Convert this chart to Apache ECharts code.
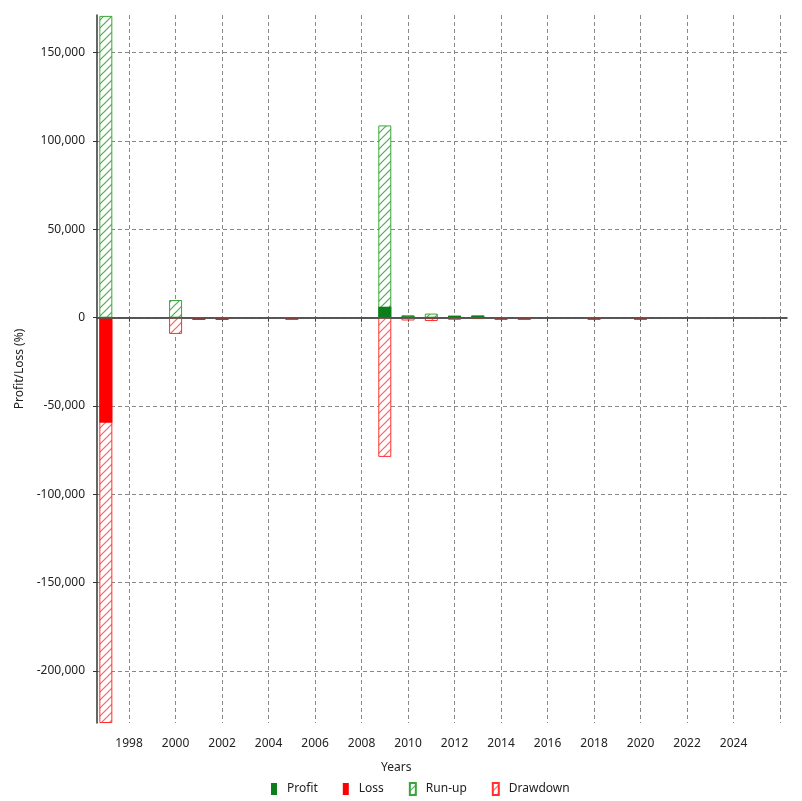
<!DOCTYPE html>
<html>
<head>
<meta charset="utf-8">
<script src="https://cdn.jsdelivr.net/npm/echarts@6/dist/echarts.min.js"></script>
<style>
  html, body { margin: 0; padding: 0; background: #fff; }
  #main { width: 802px; height: 801px; }
</style>
</head>
<body>
<div id="main"></div>
<script>
  // yearly results
  const years = [1997, 2000, 2001, 2002, 2005, 2009, 2010, 2011, 2012, 2013, 2014, 2015, 2018, 2020]
  const profit = [0, 0, 0, 0, 0, 6200, 800, 0, 1100, 1200, 0, 0, 0, 0]
  const loss = [-59400, 0, -1200, -1200, -1100, 0, 0, -700, 0, 0, -1100, -1100, -1100, -1100]
  const runup = [170800, 10000, 0, 0, 0, 108800, 1400, 2300, 1100, 1200, 0, 0, 0, 0]
  const drawdown = [-229400, -9200, -1200, -1200, -1100, -78800, -1600, -1900, -1200, -800, -1100, -1100, -1100, -1100]
  const xTicks = [1998, 2000, 2002, 2004, 2006, 2008, 2010, 2012, 2014, 2016, 2018, 2020, 2022, 2024, 2026]
  const xLabels = [1998, 2000, 2002, 2004, 2006, 2008, 2010, 2012, 2014, 2016, 2018, 2020, 2022, 2024]
  const yTicks = [-200000, -150000, -100000, -50000, 0, 50000, 100000, 150000]

  // diagonal hatch pattern
  function hatch(color) {
    const c = document.createElement('canvas')
    c.width = 8
    c.height = 8
    const ctx = c.getContext('2d')
    ctx.fillStyle = '#fff'
    ctx.fillRect(0, 0, 8, 8)
    ctx.strokeStyle = color
    ctx.lineWidth = 1.2
    ctx.beginPath()
    ctx.moveTo(-1, 9); ctx.lineTo(9, -1)
    ctx.moveTo(-1, 1); ctx.lineTo(1, -1)
    ctx.moveTo(7, 9); ctx.lineTo(9, 7)
    ctx.stroke()
    return { image: c, repeat: 'repeat' }
  }

  const pairs = (arr) => years.map((y, i) => [y, arr[i]])
  const font = 'Noto Sans'

  const myChart = echarts.init(document.getElementById('main'))
  myChart.setOption({
    animation: false,
    textStyle: { fontFamily: font },
    grid: { left: 97, right: 15, top: 15, bottom: 78 },
    legend: {
      data: ['Profit', 'Loss', 'Run-up', 'Drawdown'],
      left: 266,
      top: 777,
      itemWidth: 6,
      itemHeight: 12,
      itemGap: 25,
      icon: 'rect',
      textStyle: { fontSize: 12, color: '#222', fontFamily: font, padding: [0, 0, 0, 5] }
    },
    title: {
      text: 'Years',
      left: 376,
      top: 757,
      textStyle: { fontSize: 12, fontWeight: 'normal', color: '#222', fontFamily: font }
    },
    xAxis: {
      type: 'value',
      min: 1996.62,
      max: 2026.3,
      axisLine: { lineStyle: { color: '#333', width: 1.5 } },
      axisTick: { show: true, length: 4, lineStyle: { color: '#333' }, customValues: xTicks },
      axisLabel: {
        customValues: xLabels,
        formatter: (v) => String(v),
        margin: 15,
        fontSize: 12,
        color: '#222'
      },
      splitLine: { show: true, lineStyle: { color: '#888', type: [4, 3] } }
    },
    yAxis: {
      type: 'value',
      min: -229400,
      max: 171300,
      name: 'Profit/Loss (%)',
      nameLocation: 'middle',
      nameGap: 56,
      nameTextStyle: { fontSize: 12, color: '#222' },
      axisLine: { show: true, lineStyle: { color: '#333', width: 1.5 } },
      axisTick: { show: true, length: 4, lineStyle: { color: '#333' }, customValues: yTicks },
      axisLabel: {
        customValues: yTicks,
        formatter: (v) => v.toLocaleString('en-US'),
        margin: 12,
        fontSize: 12,
        color: '#222'
      },
      splitLine: { show: true, lineStyle: { color: '#888', type: [4, 3] } }
    },
    series: [
      {
        name: 'Run-up',
        type: 'bar',
        barWidth: 13,
        barGap: '-100%',
        data: pairs(runup),
        itemStyle: { color: hatch('#4caf50'), borderColor: '#3aa53a', borderWidth: 1 },
        markLine: {
          silent: true,
          symbol: 'none',
          label: { show: false },
          lineStyle: { color: '#555', type: 'solid', width: 1.5 },
          data: [{ yAxis: 0 }]
        }
      },
      {
        name: 'Drawdown',
        type: 'bar',
        barWidth: 13,
        barGap: '-100%',
        data: pairs(drawdown),
        itemStyle: { color: hatch('#ff6060'), borderColor: '#ff3030', borderWidth: 1 }
      },
      {
        name: 'Profit',
        type: 'bar',
        barWidth: 13,
        barGap: '-100%',
        data: pairs(profit),
        itemStyle: { color: '#0b7d1a' }
      },
      {
        name: 'Loss',
        type: 'bar',
        barWidth: 13,
        barGap: '-100%',
        data: pairs(loss),
        itemStyle: { color: '#ff0000' }
      }
    ]
  })
</script>
</body>
</html>
